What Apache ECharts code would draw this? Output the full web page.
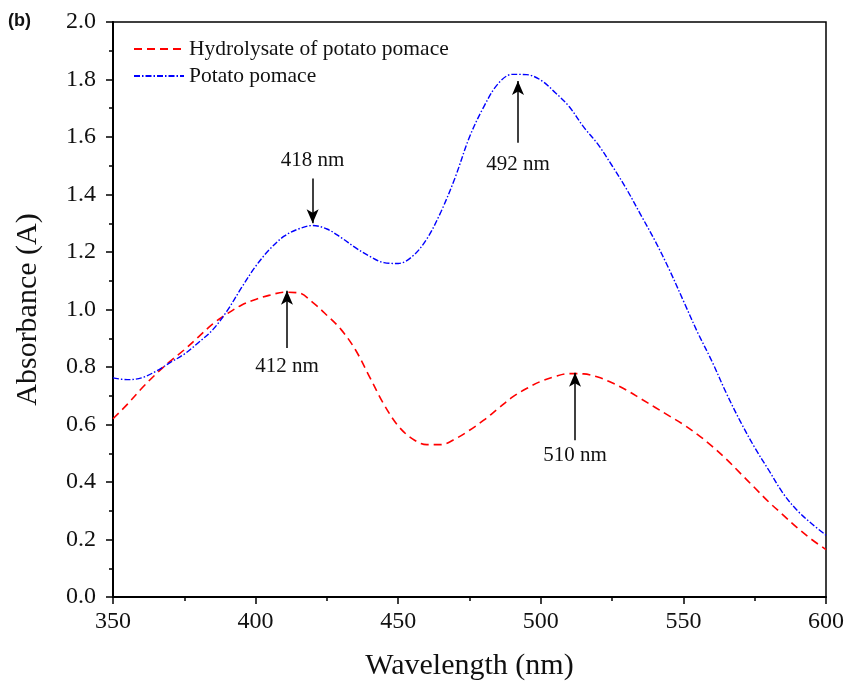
<!DOCTYPE html>
<html><head><meta charset="utf-8">
<script src="https://cdn.jsdelivr.net/npm/echarts@6/dist/echarts.min.js"></script>
<style>html,body{margin:0;padding:0;background:#fff}#c{width:847px;height:688px}</style>
</head><body><div id="c"></div>
<script>
const wavelengths = [350,355,360,365,370,375,380,385,390,395,400,405,410,415,420,425,430,435,440,445,450,455,460,465,470,475,480,485,490,495,500,505,510,515,520,525,530,535,540,545,550,555,560,565,570,575,580,585,590,595,600];
const hydrolysate = [0.62,0.67,0.725,0.775,0.82,0.86,0.905,0.95,0.985,1.015,1.035,1.05,1.06,1.058,1.025,0.98,0.93,0.86,0.765,0.67,0.595,0.55,0.53,0.53,0.55,0.58,0.615,0.655,0.695,0.725,0.75,0.767,0.777,0.776,0.765,0.745,0.72,0.69,0.66,0.63,0.6,0.565,0.525,0.48,0.43,0.38,0.33,0.285,0.24,0.2,0.165];
const pomace = [0.762,0.756,0.762,0.785,0.815,0.845,0.885,0.93,0.995,1.075,1.15,1.21,1.255,1.28,1.292,1.28,1.25,1.215,1.185,1.163,1.16,1.185,1.245,1.34,1.46,1.6,1.705,1.785,1.818,1.817,1.798,1.755,1.705,1.635,1.575,1.5,1.42,1.33,1.24,1.14,1.03,0.92,0.82,0.71,0.61,0.52,0.44,0.36,0.30,0.255,0.215];
const seriesNames = ['Hydrolysate of potato pomace','Potato pomace'];
// annotations: [label, x, arrow tail y, arrow tip y]
const pomaceNotes = [['418 nm',420,1.456,1.30],['492 nm',492,1.58,1.795]];
const hydroNotes = [['412 nm',411,0.866,1.065],['510 nm',512,0.545,0.78]];
const labelGaps = {'418 nm':7,'492 nm':11,'412 nm':8,'510 nm':5};

const serif = 'Liberation Serif';
function mk(notes){
  return {
    silent:true, symbol:['none','arrow'], symbolSize:[9,14],
    lineStyle:{color:'#000',width:1.5,type:'solid'},
    label:{show:true,position:'start',fontFamily:serif,fontSize:21,color:'#111',
      formatter:p=>p.data.name||''},
    data: notes.map(n=>[{name:n[0],coord:[n[1],n[2]],label:{distance:labelGaps[n[0]]}},{coord:[n[1],n[3]]}])
  };
}
const chart = echarts.init(document.getElementById('c'));
chart.setOption({
  animation:false,
  backgroundColor:'#fff',
  grid:{left:113,right:21,top:22,bottom:91,show:true,borderColor:'#000',borderWidth:1.5,backgroundColor:'transparent'},
  legend:{orient:'vertical',left:128,top:33,itemWidth:50,itemHeight:10,itemGap:5,
    itemStyle:{opacity:0},
    textStyle:{fontFamily:serif,fontSize:21.5,color:'#111'},
    data:seriesNames},
  xAxis:{type:'value',min:350,max:600,interval:50,
    name:'Wavelength (nm)',nameLocation:'middle',nameGap:54,
    nameTextStyle:{fontFamily:serif,fontSize:30,color:'#111'},
    axisLine:{lineStyle:{color:'#000',width:2}},
    axisTick:{show:true,length:7,lineStyle:{color:'#000',width:1.5}},
    minorTick:{show:true,splitNumber:2,length:4,lineStyle:{color:'#000',width:1.5}},
    splitLine:{show:false},
    axisLabel:{fontFamily:serif,fontSize:24,color:'#111',margin:13}},
  yAxis:{type:'value',min:0,max:2,interval:0.2,
    name:'Absorbance (A)',nameLocation:'middle',nameGap:70,
    nameTextStyle:{fontFamily:serif,fontSize:30,color:'#111'},
    axisLine:{lineStyle:{color:'#000',width:2}},
    axisTick:{show:true,length:7,lineStyle:{color:'#000',width:1.5}},
    minorTick:{show:true,splitNumber:2,length:4,lineStyle:{color:'#000',width:1.5}},
    splitLine:{show:false},
    axisLabel:{fontFamily:serif,fontSize:24,color:'#111',margin:17,formatter:v=>v.toFixed(1)}},
  graphic:[{type:'text',left:8,top:12,style:{text:'(b)',font:'bold 18px "Liberation Sans"',fill:'#111'}}],
  series:[
    {name:seriesNames[0],type:'line',smooth:0.35,showSymbol:false,symbol:'none',
      data:wavelengths.map((w,i)=>[w,hydrolysate[i]]),
      color:'#ff0000',lineStyle:{color:'#ff0000',width:1.6,type:[8,5]},
      markLine:mk(hydroNotes)},
    {name:seriesNames[1],type:'line',smooth:0.35,showSymbol:false,symbol:'none',
      data:wavelengths.map((w,i)=>[w,pomace[i]]),
      color:'#0000ff',lineStyle:{color:'#0000ff',width:1.4,type:[6,2,1.5,2]},
      markLine:mk(pomaceNotes)}
  ]
});
</script></body></html>
